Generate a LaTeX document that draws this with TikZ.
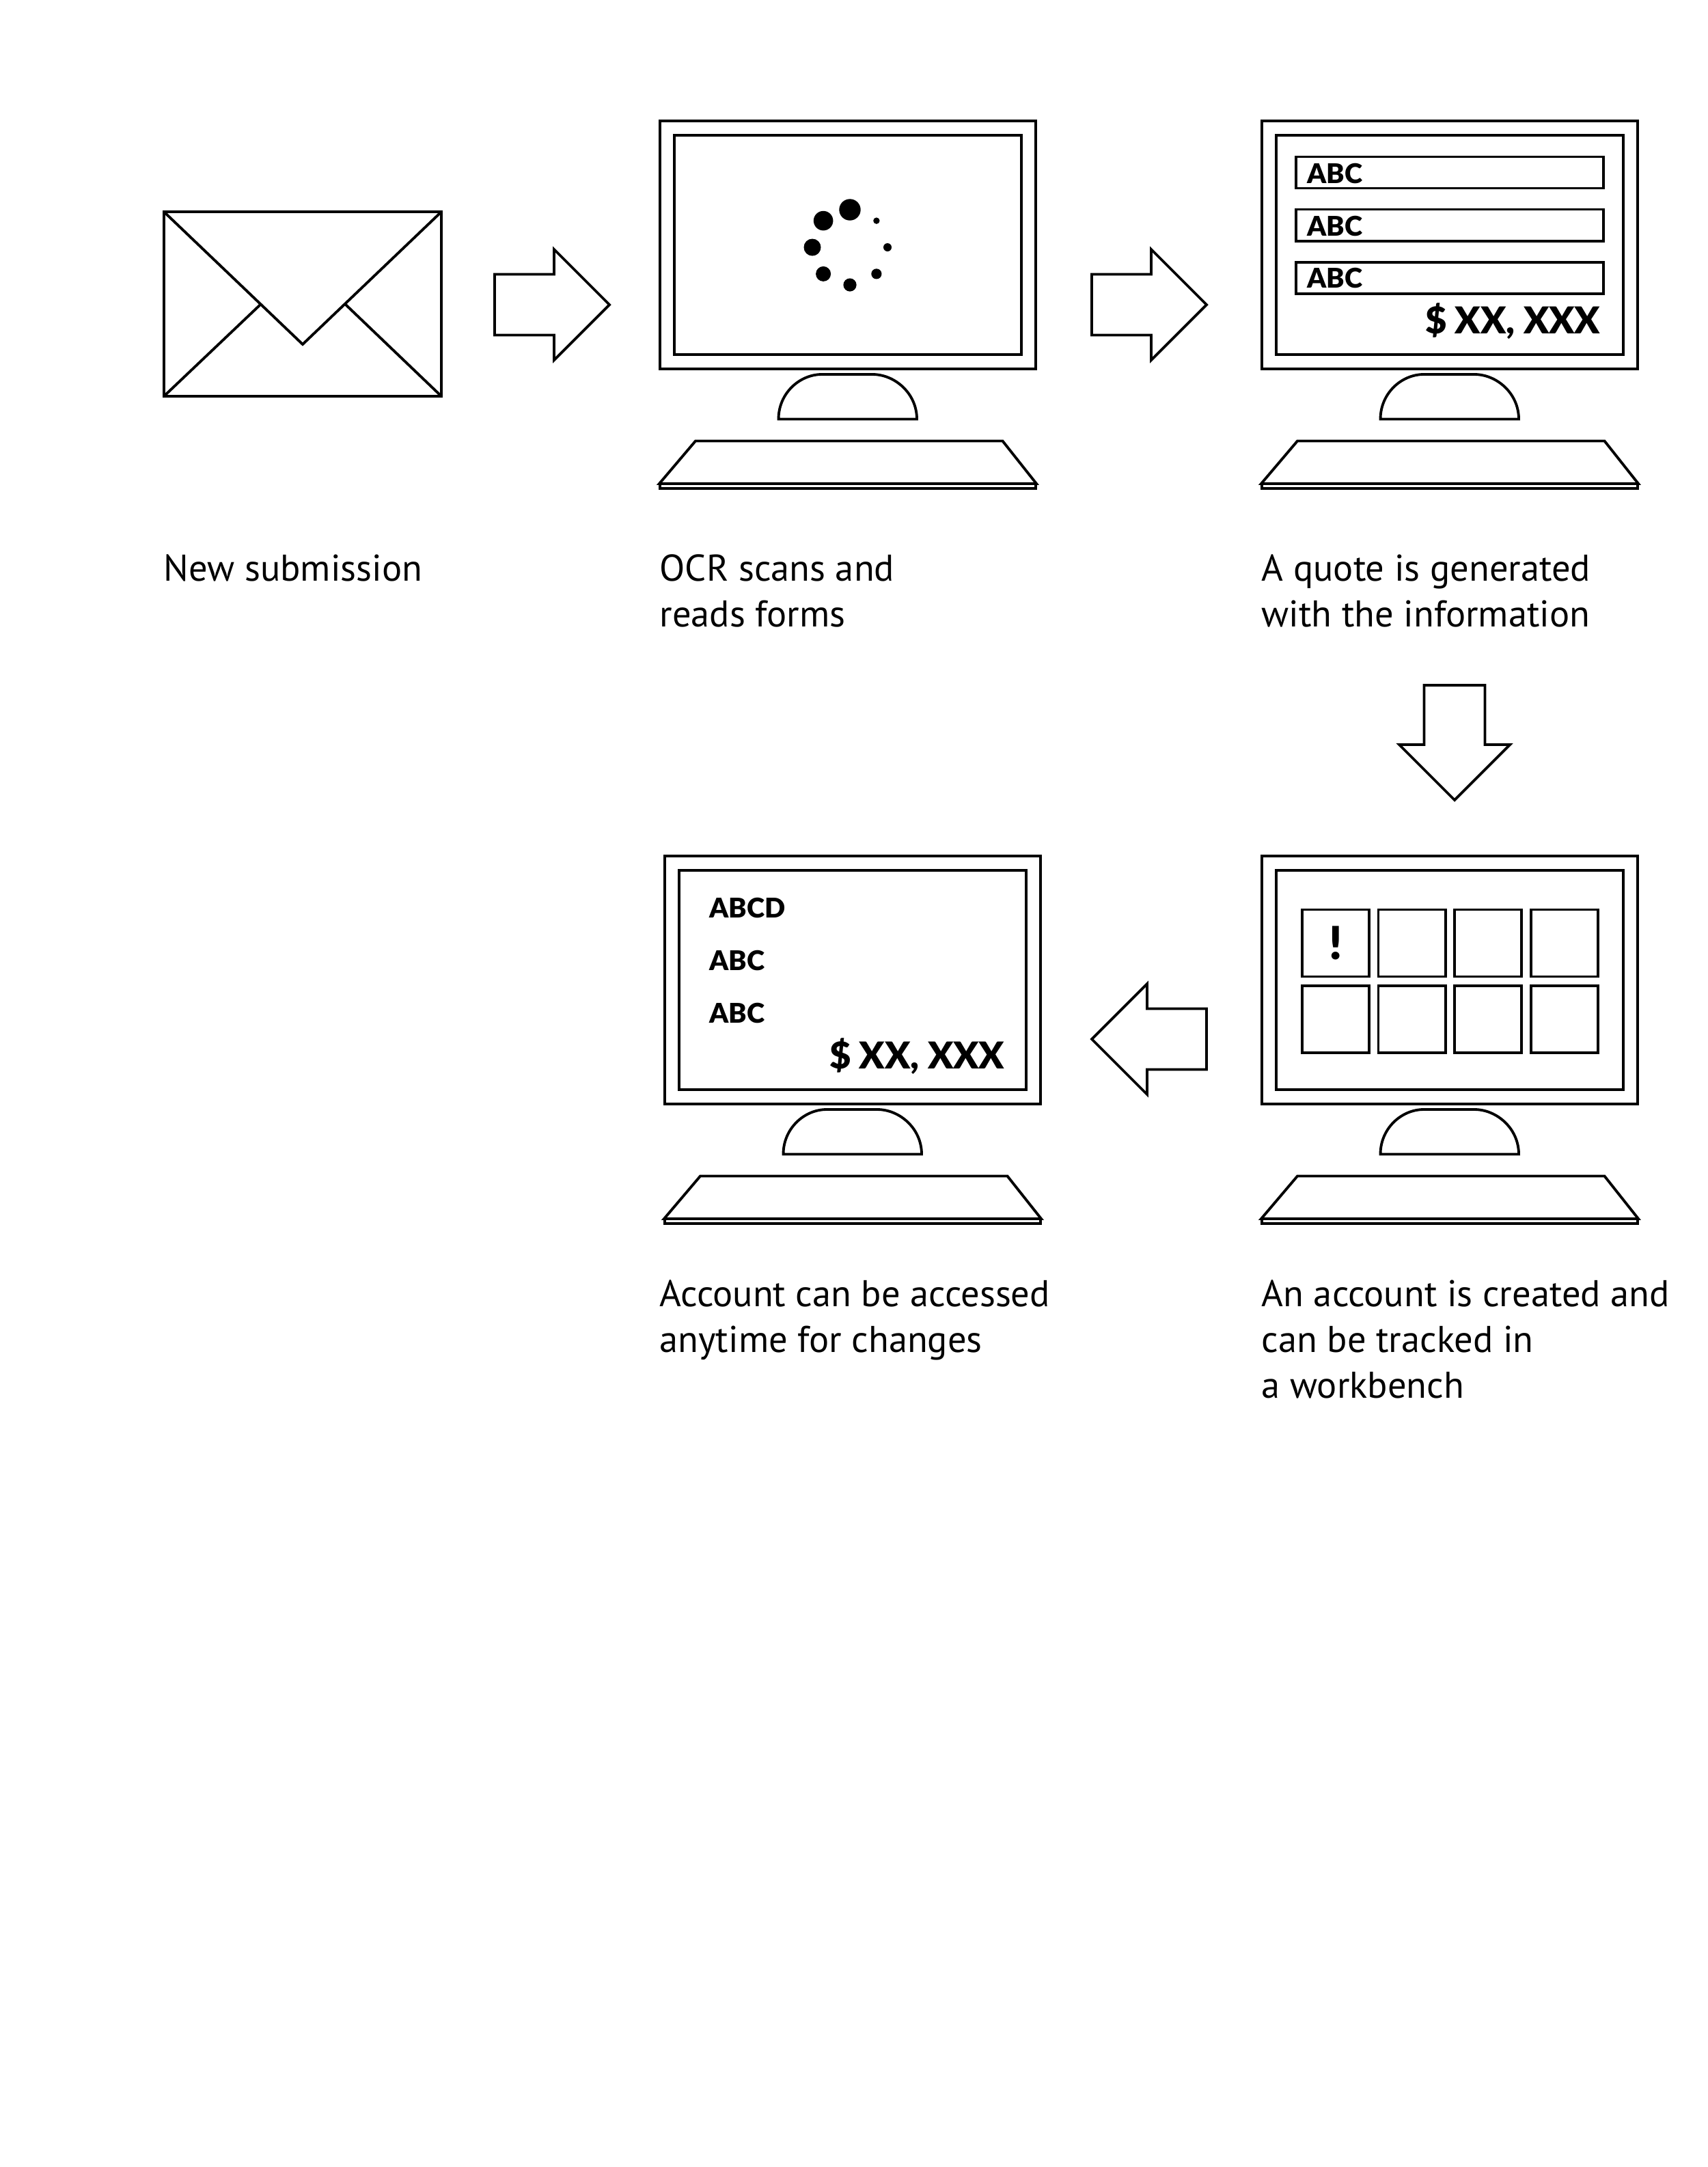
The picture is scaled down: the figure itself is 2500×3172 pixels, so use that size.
\documentclass[tikz,border=0pt]{standalone}
\usepackage{fontspec}
\setmainfont{PT Sans}
\newfontfamily\boldfont{Lato}[BoldFont={Lato Black}]
\usetikzlibrary{shapes,arrows,positioning}

\tikzset{
  pics/monitor/.style={code={
    \node[frame, minimum width=5.50cm, minimum height=3.63cm] (-outer) at (276,182.5) {};
    \node[frame, minimum width=5.08cm, minimum height=3.20cm] (-screen) at (-outer.center) {};
    \draw[frame] (174.5,437.5) .. controls (174.5,400) and (205,372) .. (238,372) -- (312,372)
      .. controls (345,372) and (377,400) .. (377,437.5) -- cycle;
    \draw[frame] (53,469.5) -- (502.5,469.5) -- (552,532) -- (0,532) -- cycle;
    \draw[frame] (1,532) -- (1,539) -- (551,539) -- (551,532);
  }},
  pics/blockarrow/.style={code={
    \draw[frame] (0,-44.5) -- (87,-44.5) -- (87,-81) -- (168,0) -- (87,81) -- (87,44.5) -- (0,44.5) -- cycle;
  }}
}

\begin{document}
\begin{tikzpicture}[x=0.01cm, y=-0.01cm,
  frame/.style={rectangle, draw, line width=1.1pt, inner sep=0pt, outer sep=0pt},
  field/.style={frame, minimum width=4.50cm, minimum height=0.46cm},
  cell/.style={frame, minimum width=0.98cm, minimum height=0.98cm},
  caption/.style={anchor=north west, align=left, inner sep=0pt, font=\fontsize{15.5}{19}\selectfont},
  tag/.style={anchor=west, inner sep=0pt, font=\boldfont\bfseries\fontsize{11.3}{13}\selectfont},
  price/.style={anchor=east, inner sep=0pt, font=\boldfont\bfseries\fontsize{15.4}{18}\selectfont}
]
  \useasboundingbox (0,0) rectangle (2500,3172);

  % envelope
  \node[frame, minimum width=4.05cm, minimum height=2.69cm] (env) at (443,445) {};
  \draw[line width=1.1pt] (env.north west) -- (443,504) -- (env.north east);
  \draw[line width=1.1pt] (env.south west) -- (382,445);
  \draw[line width=1.1pt] (env.south east) -- (505,445);

  % monitors
  \pic (scan) at (965,176) {monitor};
  \pic (quote) at (1846,176) {monitor};
  \pic (bench) at (1846,1252) {monitor};
  \pic (acct) at (972,1252) {monitor};

  % spinner
  \foreach \ang/\rad in {90/15.7, 135/14.3, 180/12.5, 225/11, 270/9.6, 315/7.6, 0/6, 45/4.7}
    \fill (1244,362) ++(\ang:55 and -55) circle[radius=\rad];

  % quote screen
  \node[field] (fa) at (2122,252.5) {};
  \node[field, below=0.31cm of fa] (fb) {};
  \node[field, below=0.31cm of fb] (fc) {};
  \node[tag] at (1913,254) (ta) {ABC};
  \node[tag] at (1913,331) (tb) {ABC};
  \node[tag] at (1913,407.5) (tc) {ABC};
  \node[price] at (2343,470) (pa) {\$ XX, XXX};

  % workbench screen
  \node[cell] (ca) at (1955,1380.5) {\boldfont\bfseries\fontsize{19}{19}\selectfont !};
  \node[cell, right=0.135cm of ca] (cb) {};
  \node[cell, right=0.135cm of cb] (cc) {};
  \node[cell, right=0.135cm of cc] (cd) {};
  \node[cell, below=0.135cm of ca] (ce) {};
  \node[cell, right=0.135cm of ce] (cf) {};
  \node[cell, right=0.135cm of cf] (cg) {};
  \node[cell, right=0.135cm of cg] (ch) {};

  % account screen
  \node[tag] at (1038,1329) (ua) {ABCD};
  \node[tag] at (1038,1406) (ub) {ABC};
  \node[tag] at (1038,1483) (uc) {ABC};
  \node[price] at (1471,1546) (pb) {\$ XX, XXX};

  % block arrows
  \pic (ra) at (724,446) {blockarrow};
  \pic (rb) at (1598,446) {blockarrow};
  \pic[rotate=-90] (da) at (2129,1003) {blockarrow};
  \pic[rotate=180] (la) at (1766,1521) {blockarrow};

  % captions
  \node[caption] (na) at (239,811) {New submission};
  \node[caption] (nb) at (965,811) {OCR scans and\\reads forms};
  \node[caption] (nc) at (1846,811) {A quote is generated\\with the information};
  \node[caption] (nd) at (965,1873) {Account can be accessed\\anytime for changes};
  \node[caption] (ne) at (1846,1873) {An account is created and\\can be tracked in\\a workbench};
\end{tikzpicture}
\end{document}
